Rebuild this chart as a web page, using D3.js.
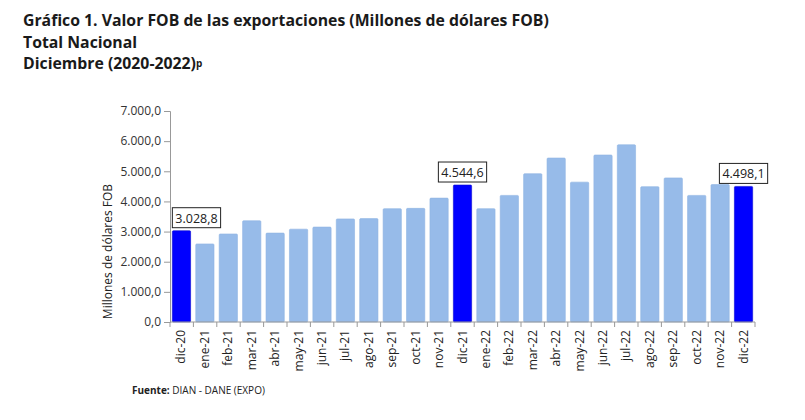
<!DOCTYPE html>
<html>
<head>
<meta charset="utf-8">
<script src="https://cdn.jsdelivr.net/npm/d3@7"></script>
<style>
  body { margin: 0; background: #fff; }
  svg { font-family: 'Open Sans', sans-serif; }
</style>
</head>
<body>
<div id="chart"></div>
<script>
const months = ['dic-20', 'ene-21', 'feb-21', 'mar-21', 'abr-21', 'may-21', 'jun-21', 'jul-21',
    'ago-21', 'sep-21', 'oct-21', 'nov-21', 'dic-21', 'ene-22', 'feb-22', 'mar-22', 'abr-22',
    'may-22', 'jun-22', 'jul-22', 'ago-22', 'sep-22', 'oct-22', 'nov-22', 'dic-22'];
const exportsFob = [3028.8, 2590, 2920, 3360, 2950, 3080, 3150, 3420,
    3430, 3760, 3770, 4110, 4544.6, 3760, 4200, 4920, 5440,
    4640, 5540, 5880, 4490, 4780, 4200, 4560, 4498.1];
const highlighted = ['dic-20', 'dic-21', 'dic-22'];
const yTicks = [0, 1000, 2000, 3000, 4000, 5000, 6000, 7000];

const width = 805, height = 420;
const fmt = d3.formatLocale({ decimal: ',', thousands: '.', grouping: [3] }).format(',.1f');

const svg = d3.select('#chart')
    .append('svg')
    .attr('width', width)
    .attr('height', height);

// titles
const titles = ['Gráfico 1. Valor FOB de las exportaciones (Millones de dólares FOB)', 'Total Nacional'];
titles.forEach((t, i) => {
    svg.append('text')
        .attr('x', 23)
        .attr('y', 26 + i * 21.5)
        .attr('font-size', 15.8)
        .attr('font-weight', 'bold')
        .attr('fill', '#1a1a1a')
        .text(t);
});
const t3 = svg.append('text')
    .attr('x', 23)
    .attr('y', 69)
    .attr('font-size', 15.8)
    .attr('font-weight', 'bold')
    .attr('fill', '#1a1a1a')
    .text('Diciembre (2020-2022)');
t3.append('tspan')
    .attr('font-size', 10)
    .attr('dy', -2)
    .text('p');

const x = d3.scaleBand()
    .domain(months)
    .range([170, 755])
    .paddingInner(0.22)
    .paddingOuter(0.1);

const y = d3.scaleLinear()
    .domain([0, 7000])
    .range([322, 111]);

// bars
svg.selectAll('rect.bar')
    .data(exportsFob)
    .enter()
    .append('rect')
    .attr('class', 'bar')
    .attr('x', (d, i) => x(months[i]))
    .attr('y', d => y(d))
    .attr('width', x.bandwidth())
    .attr('height', d => y(0) - y(d))
    .attr('rx', 1)
    .attr('fill', (d, i) => highlighted.includes(months[i]) ? '#0000ff' : '#97bbe9')
    .attr('stroke', (d, i) => highlighted.includes(months[i]) ? '#0a0ad0' : '#8fb3e3')
    .attr('stroke-width', 0.6);

// y axis
const yAxis = d3.axisLeft(y)
    .tickValues(yTicks)
    .tickFormat(fmt)
    .tickSize(6)
    .tickPadding(3);

const gy = svg.append('g')
    .attr('transform', 'translate(170,0)')
    .call(yAxis);
gy.select('.domain').attr('stroke', '#999');
gy.selectAll('.tick line').attr('stroke', '#999');
gy.selectAll('.tick text')
    .attr('font-size', 12)
    .attr('font-family', "'Open Sans', sans-serif")
    .attr('fill', '#333');

// x axis with ticks on band boundaries
svg.append('line')
    .attr('x1', 170).attr('x2', 755)
    .attr('y1', y(0)).attr('y2', y(0))
    .attr('stroke', '#999');
const edges = d3.range(months.length + 1).map(i => 170 + i * (585 / months.length));
svg.selectAll('line.xtick')
    .data(edges)
    .enter()
    .append('line')
    .attr('class', 'xtick')
    .attr('x1', d => d).attr('x2', d => d)
    .attr('y1', y(0)).attr('y2', y(0) + 5)
    .attr('stroke', '#999');

svg.selectAll('text.xlab')
    .data(months)
    .enter()
    .append('text')
    .attr('class', 'xlab')
    .attr('transform', d => `translate(${x(d) + x.bandwidth() / 2 + 4},${y(0) + 8}) rotate(-90)`)
    .attr('text-anchor', 'end')
    .attr('font-size', 12)
    .attr('fill', '#222')
    .text(d => d);

// y axis title
svg.append('text')
    .attr('transform', `translate(112,${(y(0) + y(7000)) / 2 + 35}) rotate(-90)`)
    .attr('text-anchor', 'middle')
    .attr('font-size', 12)
    .attr('fill', '#222')
    .text('Millones de dólares FOB');

// value boxes for highlighted months
highlighted.forEach((m, k) => {
    const i = months.indexOf(m);
    const cx = x(m) + x.bandwidth() / 2 + (k === 0 ? 15 : 0);
    const top = y(exportsFob[i]) - 3;
    const g = svg.append('g');
    const txt = g.append('text')
        .attr('x', cx)
        .attr('y', top - 5)
        .attr('text-anchor', 'middle')
        .attr('font-size', 12.5)
        .attr('fill', '#222')
        .text(fmt(exportsFob[i]));
    const bb = txt.node().getBBox();
    g.insert('rect', 'text')
        .attr('x', bb.x - 3)
        .attr('y', top - 20)
        .attr('width', bb.width + 6)
        .attr('height', 20)
        .attr('fill', '#fff')
        .attr('stroke', '#222')
        .attr('stroke-width', 1);
});

// source
const src = svg.append('text')
    .attr('x', 132)
    .attr('y', 394)
    .attr('font-size', 10)
    .attr('fill', '#222');
src.append('tspan').attr('font-weight', 'bold').text('Fuente:');
src.append('tspan').text(' DIAN - DANE (EXPO)');
</script>
</body>
</html>
